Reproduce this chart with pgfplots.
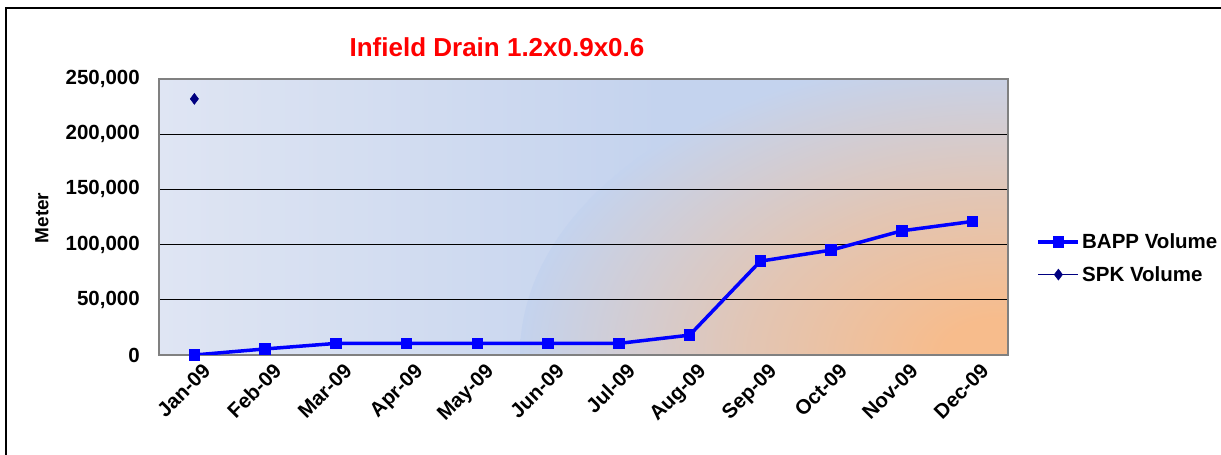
\documentclass[border=0pt]{standalone}
\usepackage{pgfplots}
\pgfplotsset{compat=1.18}
\usepackage{fontspec}
\setmainfont{Liberation Sans}
\usetikzlibrary{backgrounds}
\definecolor{navy}{RGB}{0,0,128}
\definecolor{bgl}{RGB}{223,229,243}
\definecolor{bgr}{RGB}{196,211,238}
\definecolor{org}{RGB}{247,188,140}
\definecolor{framegray}{RGB}{128,128,128}
\pgfdeclareradialshading{orgglow}{\pgfpoint{0bp}{0bp}}{%
  color(0bp)=(org); color(3bp)=(org); color(13bp)=(org!60!bgr); color(25bp)=(bgr); color(50bp)=(bgr)}
\begin{document}
\begin{tikzpicture}[x=1pt,y=1pt]
\useasboundingbox (0,0) rectangle (1221,455);
\draw[line width=2pt] (5.5,-10) -- (5.5,446.5) -- (1240,446.5);
\begin{axis}[
  name=ax, at={(159pt,100pt)}, anchor=south west,
  scale only axis, width=849pt, height=276pt,
  xmin=-0.5, xmax=11.5, ymin=0, ymax=250000,
  xtick={0,...,11},
  xticklabels={Jan-09,Feb-09,Mar-09,Apr-09,May-09,Jun-09,Jul-09,Aug-09,Sep-09,Oct-09,Nov-09,Dec-09},
  ytick={0,50000,100000,150000,200000,250000},
  scaled y ticks=false,
  /pgf/number format/fixed,
  /pgf/number format/1000 sep={,},
  /pgf/number format/assume math mode=true,
  tick label style={font=\fontsize{20.5}{20.5}\selectfont\bfseries},
  major tick length=0pt,
  ymajorgrids, grid style={black, line width=0.9pt},
  axis line style={draw=framegray, line width=1.5pt},
  yticklabel style={inner sep=0pt, xshift=-19pt},
  xticklabel style={rotate=45, anchor=north east, inner sep=0pt, yshift=-10pt},
  legend style={at={(1.03,0.35)}, anchor=west, draw=none, fill=none,
    font=\fontsize{20.5}{20.5}\selectfont\bfseries, row sep=12pt,
    /tikz/every even column/.append style={column sep=3pt}},
  legend cell align=left,
  legend image code/.code={\draw[mark repeat=2,mark phase=2] plot coordinates {(0pt,0pt) (20pt,0pt) (40pt,0pt)};},
]
\addplot[blue, line width=3.5pt, mark=square*, mark size=5.3pt, mark options={solid, line width=1pt}]
  coordinates {(0,0) (1,5500) (2,10500) (3,10500) (4,10500) (5,10500) (6,10500) (7,18000) (8,85000) (9,95000) (10,112500) (11,121000)};
\addlegendentry{BAPP Volume}
\addplot[navy, line width=1.2pt, mark=diamond*, mark size=5.5pt, mark options={solid, line width=0.5pt}]
  coordinates {(0,232000)};
\addlegendentry{SPK Volume}
\end{axis}
\begin{scope}[on background layer]
  \clip (ax.south west) rectangle (ax.north east);
  \shade[left color=bgl, right color=bgr] (159,100) rectangle (660,376);
  \fill[bgr] (659,100) rectangle (1008,376);
  \shade[shading=orgglow] (1000,100) ellipse [x radius=480, y radius=300];
\end{scope}
\node[font=\fontsize{26}{26}\selectfont\bfseries, text=red] at (497,408) {Infield Drain 1.2x0.9x0.6};
\node[rotate=90, font=\fontsize{19}{19}\selectfont\bfseries] at (42,237) {Meter};
\end{tikzpicture}
\end{document}
